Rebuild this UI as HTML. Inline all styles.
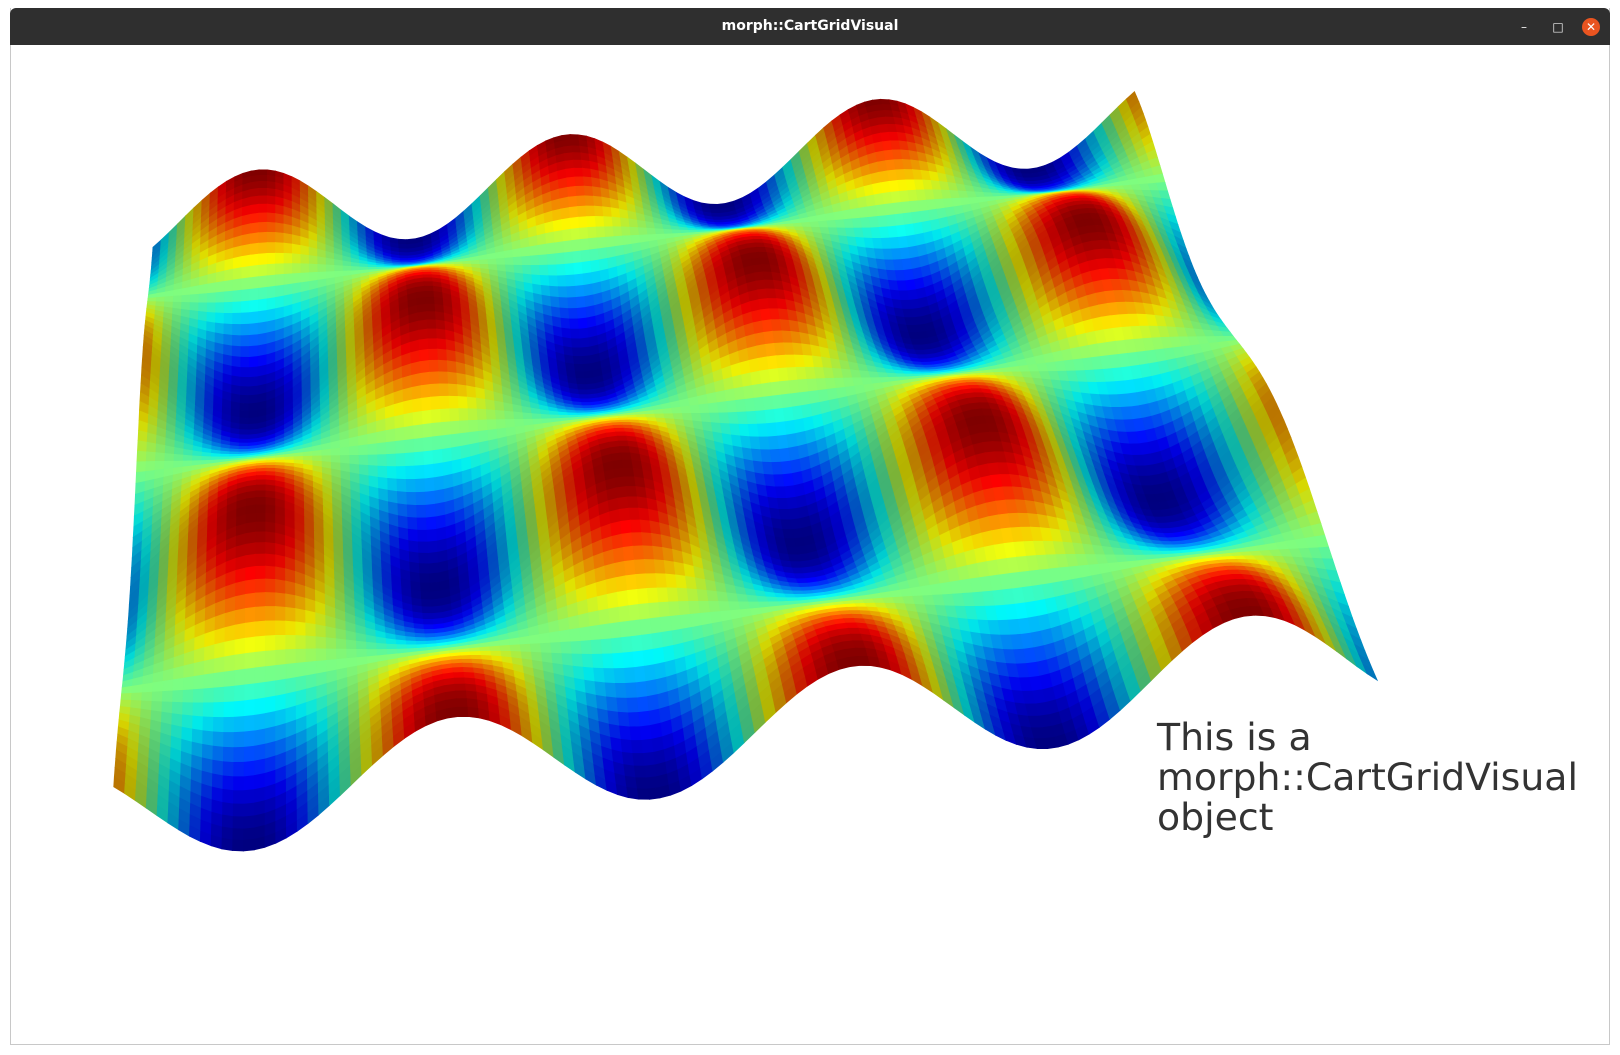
<!DOCTYPE html>
<html><head><meta charset="utf-8"><style>
html,body{margin:0;padding:0;background:#fff;}
body{width:1620px;height:1055px;position:relative;overflow:hidden;font-family:"DejaVu Sans","Liberation Sans",sans-serif;}
#win{position:absolute;left:10px;top:8px;width:1600px;height:1037px;border:1px solid #c8c8c8;border-top:none;box-sizing:border-box;background:#fff;}
#bar{position:absolute;left:10px;top:8px;width:1600px;height:37px;background:#2f2f2f;border-radius:6px 6px 0 0;}
#title{position:absolute;left:0;right:0;top:10px;text-align:center;color:#fff;font:bold 14px "DejaVu Sans","Liberation Sans",sans-serif;}
.btn{position:absolute;top:10px;width:18px;height:18px;color:#eee;font-size:12px;text-align:center;line-height:18px;}
#close{background:#e95420;border-radius:50%;color:#fff;}
#label{position:absolute;left:1157px;top:717px;font-size:37.8px;line-height:40px;color:#333;white-space:pre;}
svg{position:absolute;left:0;top:0;}
</style></head><body>
<div id="win"></div>
<div id="bar">
 <div id="title">morph::CartGridVisual</div>
 <div class="btn" style="left:1505px">–</div>
 <div class="btn" style="left:1539px">□</div>
 <div class="btn" id="close" style="left:1572px">✕</div>
</div>
<svg id="plot" width="1620" height="1055"></svg>
<div id="label">This is a
morph::CartGridVisual
object</div>
<script>
const xRange = [-0.17*Math.PI, 6.17*Math.PI];
const yRange = [0, 3*Math.PI];
const gridSize = [120, 76];
const S = 1.0332;
function zf(x,y){return Math.sin(x)*Math.cos(y);}
function dzdx(x,y){return Math.cos(x)*Math.cos(y);}
function lerp(a,b,t){return a+(b-a)*t;}
function proj(u,v,z){
  const vv = 0.68*v+0.32*v*v;
  const ub = u + 0.03*u*(1-u);
  const uu = lerp(u, ub, vv);
  const bx = lerp(lerp(148,1098,uu), lerp(110,1333,uu), vv);
  const by = lerp(lerp(218,110,uu), lerp(788,632,uu), vv);
  const amp = lerp(42,52,v);
  return [(bx*S).toFixed(1), ((by - z*amp)*S).toFixed(1)];
}
function cl(a){return Math.max(0,Math.min(1,a));}
function jet(t,sh){
  const r=cl(1.5-Math.abs(4*t-3)), g=cl(1.5-Math.abs(4*t-2)), b=cl(1.5-Math.abs(4*t-1));
  return 'rgb('+Math.round(r*255*sh)+','+Math.round(g*255*sh)+','+Math.round(b*255*sh)+')';
}
const svg=document.getElementById('plot');
const g=document.createElementNS('http://www.w3.org/2000/svg','g');


svg.appendChild(g);
const nc=gridSize[0], nr=gridSize[1];
for(let j=0;j<nr;j++){
  for(let i=0;i<nc;i++){
    const u0=i/nc,u1=(i+1)/nc,v0=j/nr,v1=(j+1)/nr;
    const X=u=>lerp(xRange[0],xRange[1],u), Y=v=>lerp(yRange[0],yRange[1],v);
    const z00=zf(X(u0),Y(v0)),z10=zf(X(u1),Y(v0)),z11=zf(X(u1),Y(v1)),z01=zf(X(u0),Y(v1));
    const xc=X((u0+u1)/2), yc=Y((v0+v1)/2);
    const zc=zf(xc,yc);
    const sh=1-0.3*Math.abs(dzdx(xc,yc));
    const p=[proj(u0,v0,z00),proj(u1,v0,z10),proj(u1,v1,z11),proj(u0,v1,z01)];
    const c=jet((zc+1)/2,sh);
    const el=document.createElementNS('http://www.w3.org/2000/svg','path');
    el.setAttribute('d','M'+p.map(q=>q.join(' ')).join('L')+'Z');
    el.setAttribute('fill',c);
    el.setAttribute('stroke',c);
    el.setAttribute('stroke-width','0.7');
    
    
    g.appendChild(el);
  }
}
</script>
</body></html>
